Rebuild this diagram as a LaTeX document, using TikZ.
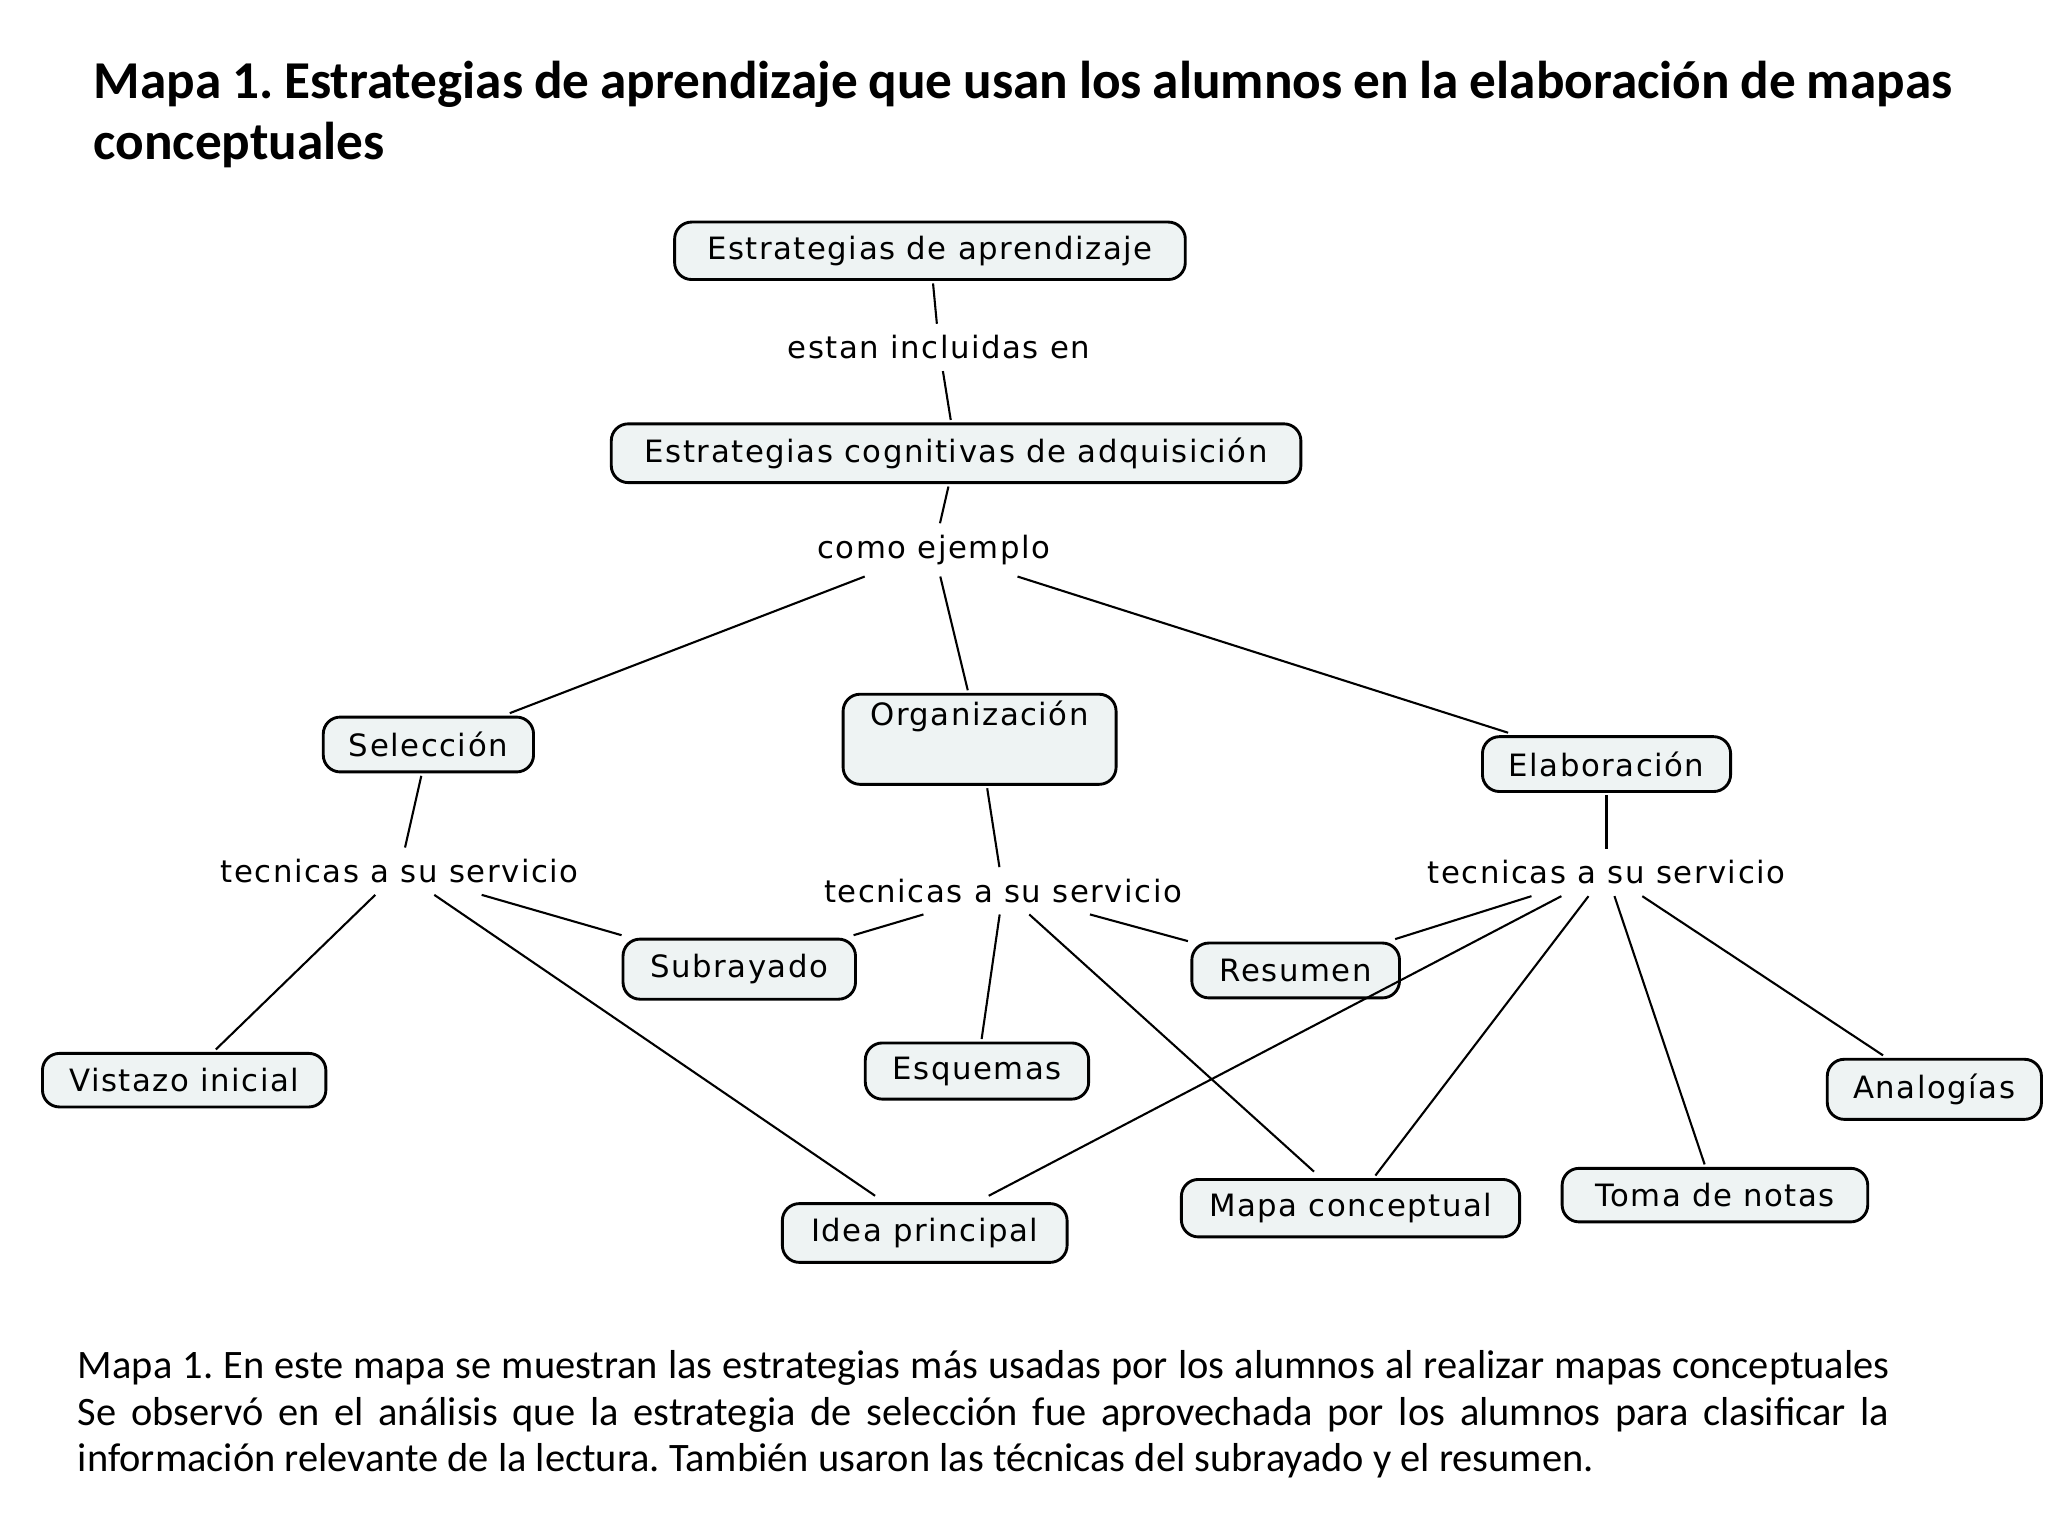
\documentclass[tikz,border=0pt]{standalone}
\usepackage{fontspec}
\setmainfont{Carlito}
\newfontfamily\nodefont[LetterSpace=5]{DejaVu Sans}
\definecolor{boxfill}{HTML}{EEF3F3}
\hyphenpenalty=10000
\exhyphenpenalty=10000
\begin{document}
\begin{tikzpicture}[x=0.1mm,y=-0.1mm,
  cbox/.style={draw=black,line width=0.22mm,fill=boxfill,rounded corners=1.3mm,font=\nodefont\fontsize{6.7}{8}\selectfont,inner sep=0pt,outer sep=0.3mm},
  lab/.style={font=\nodefont\fontsize{6.7}{8}\selectfont,inner sep=0.6mm,outer sep=0.3mm},
  conn/.style={line width=0.16mm}]
\useasboundingbox[fill=white] (0,0) rectangle (1568,1176);
\node[font={\bfseries\fontsize{11.6}{13.3}\selectfont\hyphenpenalty=10000\frenchspacing},text width=142.3mm,align=justify,anchor=north west,inner sep=0pt] (title) at (71,46) {Mapa 1. Estrategias de aprendizaje que usan los alumnos en la elaboración de mapas conceptuales};
\node[cbox,minimum width=39.1mm,minimum height=4.4mm] (e1) at (712,192) {Estrategias de aprendizaje};
\node[cbox,minimum width=52.8mm,minimum height=4.5mm] (e2) at (732,347) {Estrategias cognitivas de adquisición};
\node[lab] (l1) at (719,266) {estan incluidas en};
\node[lab] (l2) at (715,421) {como ejemplo};
\node[cbox,minimum width=16.1mm,minimum height=4.2mm] (sel) at (328,570) {Selección};
\node[cbox,minimum width=20.9mm,minimum height=6.9mm,text depth=4.0mm] (org) at (750,566) {Organización};
\node[cbox,minimum width=19mm,minimum height=4.2mm] (ela) at (1230,585) {Elaboración};
\node[lab] (l3) at (306,667) {tecnicas a su servicio};
\node[lab] (l4) at (768,682) {tecnicas a su servicio};
\node[lab] (l5) at (1230,668) {tecnicas a su servicio};
\node[cbox,minimum width=17.8mm,minimum height=4.6mm] (sub) at (566,742) {Subrayado};
\node[cbox,minimum width=21.7mm,minimum height=4.1mm] (vis) at (141,827) {Vistazo inicial};
\node[cbox,minimum width=17.1mm,minimum height=4.3mm] (esq) at (748,820) {Esquemas};
\node[cbox,minimum width=15.9mm,minimum height=4.2mm] (res) at (992,743) {Resumen};
\node[cbox,minimum width=16.4mm,minimum height=4.6mm] (ana) at (1481,834) {Analogías};
\node[cbox,minimum width=21.8mm,minimum height=4.5mm] (ide) at (708,944) {Idea principal};
\node[cbox,minimum width=25.9mm,minimum height=4.4mm] (map) at (1034,925) {Mapa conceptual};
\node[cbox,minimum width=23.4mm,minimum height=4.1mm] (tom) at (1313,915) {Toma de notas};
\draw[conn] (e1) -- (l1); \draw[conn] (l1) -- (e2); \draw[conn] (e2) -- (l2);
\draw[conn] (l2) -- (sel); \draw[conn] (l2) -- (org); \draw[conn] (l2) -- (ela);
\draw[conn] (sel) -- (l3); \draw[conn] (org) -- (l4); \draw[conn] (ela) -- (l5);
\draw[conn] (l3) -- (vis); \draw[conn] (l3) -- (sub); \draw[conn] (l3) -- ([xshift=-3.8mm,yshift=0.3mm]ide.north);
\draw[conn] (l4) -- (sub); \draw[conn] (l4) -- (esq); \draw[conn] (l4) -- ([xshift=-2.8mm,yshift=0.3mm]map.north); \draw[conn] (l4) -- (res);
\draw[conn] (l5) -- (res); \draw[conn] (l5) -- ([xshift=4.9mm,yshift=0.3mm]ide.north); \draw[conn] (l5) -- (map);
\draw[conn] (l5) -- (tom); \draw[conn] (l5) -- (ana);
\node[font={\fontsize{8.8}{10.2}\selectfont\hyphenpenalty=10000\frenchspacing},text width=138.7mm,align=justify,anchor=north west,inner sep=0pt] (cap) at (59,1033) {Mapa 1. En este mapa se muestran las estrategias más usadas por los alumnos al realizar mapas conceptuales Se observó en el análisis que la estrategia de selección fue aprovechada por los alumnos para clasificar la información relevante de la lectura. También usaron las técnicas del subrayado y el resumen.};
\end{tikzpicture}
\end{document}
